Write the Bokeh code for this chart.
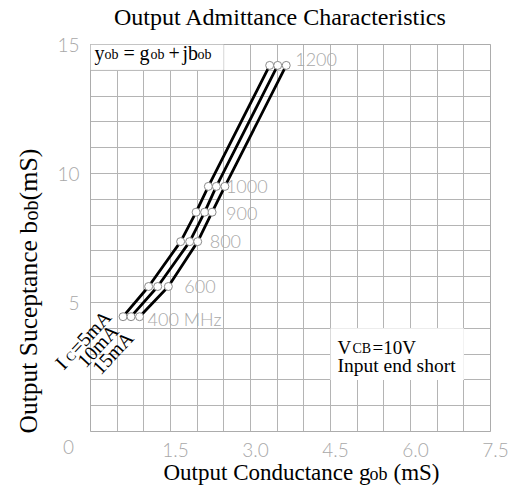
import math
from bokeh.plotting import figure
from bokeh.models import Range1d, FixedTicker, Label, BoxAnnotation, Grid
from bokeh.embed import file_html
from bokeh.resources import INLINE

# ---------------- data ----------------
freqs_mhz = [400, 600, 800, 900, 1000, 1200]
freq_labels = ["400 MHz", "600", "800", "900", "1000", "1200"]
b_ob = [4.45, 5.62, 7.36, 8.50, 9.50, 14.19]          # susceptance (mS)
g_ob_5mA = [0.61, 1.09, 1.69, 1.98, 2.21, 3.36]       # conductance (mS)
g_ob_10mA = [0.76, 1.26, 1.86, 2.14, 2.36, 3.51]
g_ob_15mA = [0.92, 1.46, 2.01, 2.28, 2.52, 3.67]
current_labels = ["=5mA", "10mA", "15mA"]

x_ticks = [1.5, 3.0, 4.5, 6.0, 7.5]
x_tick_labels = ["1.5", "3.0", "4.5", "6.0", "7.5"]
y_ticks = [5, 10, 15]
y_tick_labels = ["5", "10", "15"]
x_grid = [0, 0.5, 1.0, 1.5, 2.0, 2.5, 3.0, 3.5, 4.0, 4.5, 5.0, 5.5, 6.0, 6.5, 7.0, 7.5]
y_grid = [0, 1, 2, 3, 4, 5, 6, 7, 8, 9, 10, 11, 12, 13, 14, 15]
X_MAX, Y_MAX = 7.5, 15

# ---------------- styling / geometry ----------------
SERIF = "Liberation Serif"
THIN = "Lato Light"
GRAY_TXT = "#a8a8a8"
GRID_C = "#b4b4b4"
W, H = 519, 491
FX0, FX1, FY0, FY1 = 90, 490, 431, 44      # pixel edges of the gridded area
PXX = (FX1 - FX0) / X_MAX
PXY = (FY0 - FY1) / Y_MAX
MID = 0.335                                  # baseline -> em-middle, in em


def dx(px):
    return (px - FX0) / PXX


def dy(py):
    return (FY0 - py) / PXY


p = figure(width=W, height=H, x_range=Range1d(dx(0), dx(W)), y_range=Range1d(dy(H), dy(0)),
           x_axis_type=None, y_axis_type=None,
           output_backend="svg", toolbar_location=None, min_border=0)
p.background_fill_color = "white"
p.border_fill_color = "white"
p.outline_line_color = None

p.add_layout(Grid(dimension=0, ticker=FixedTicker(ticks=x_grid), bounds=(0, X_MAX),
                  cross_bounds=(0, Y_MAX), grid_line_color=GRID_C, grid_line_width=1))
p.add_layout(Grid(dimension=1, ticker=FixedTicker(ticks=y_grid), bounds=(0, Y_MAX),
                  cross_bounds=(0, X_MAX), grid_line_color=GRID_C, grid_line_width=1))
p.add_layout(BoxAnnotation(left=0, right=X_MAX, bottom=0, top=Y_MAX, fill_alpha=0,
                           line_color="#9c9c9c", line_width=1))

# white boxes behind the notes
p.add_layout(BoxAnnotation(left=0, right=2.5, bottom=14, top=15, fill_color="white", fill_alpha=1,
                           line_color="#9c9c9c", line_width=1))
p.add_layout(BoxAnnotation(left=4.5, right=7.0, bottom=2, top=4, fill_color="white", fill_alpha=1,
                           line_color=None))

# curves
for g in (g_ob_5mA, g_ob_10mA, g_ob_15mA):
    p.line(g, b_ob, line_color="black", line_width=2.8)
for g in (g_ob_5mA, g_ob_10mA, g_ob_15mA):
    p.scatter(g, b_ob, marker="circle", size=8, fill_color="white", line_color="#8a8a8a", line_width=1)

# tick labels
for t, s in zip(x_ticks, x_tick_labels):
    p.add_layout(Label(x=t, y=dy(449), x_offset=5, text=s, text_font=THIN, text_font_size="19px",
                       text_color=GRAY_TXT, text_align="center", text_baseline="middle"))
for t, s in zip(y_ticks, y_tick_labels):
    p.add_layout(Label(x=dx(79), y=t, text=s, text_font=THIN, text_font_size="19px",
                       text_color=GRAY_TXT, text_align="right", text_baseline="middle"))

# frequency labels next to the 15 mA points
lab_dx = [8, 16, 12, 14, 1, 9]
lab_dy = [-2, 0, 0, -1, 0, 6]
for i, t in enumerate(freq_labels):
    p.add_layout(Label(x=g_ob_15mA[i], y=b_ob[i], text=t, x_offset=lab_dx[i], y_offset=lab_dy[i],
                       text_font=THIN, text_font_size="18px", text_color=GRAY_TXT,
                       text_align="left", text_baseline="middle"))


def put(text, px, py, size, font=SERIF, color="black", align="left", angle=0):
    """Place text whose baseline starts at page pixel (px, py)."""
    a = math.radians(angle)
    k = MID * size
    mx, my = px - k * math.sin(a), py - k * math.cos(a)
    p.add_layout(Label(x=dx(mx), y=dy(my), text=text, text_font=font, text_font_size=f"{size}px",
                       text_color=color, text_align=align, text_baseline="middle",
                       angle=angle, angle_units="deg"))


# corner zero
p.add_layout(Label(x=dx(68), y=dy(446), text="0", text_font=THIN, text_font_size="19px",
                   text_color=GRAY_TXT, text_align="center", text_baseline="middle"))

# title
put("Output Admittance Characteristics", 280, 25, 24, align="center")

# x-axis title
put("Output Conductance g", 163, 480, 23)
put("ob", 369, 480, 18)
put("(mS)", 393, 480, 23)

# y-axis title (rotated)
put("Output Suceptance b", 37, 433, 25.5, angle=90)
put("ob", 37, 220, 20, angle=90)
put("(mS)", 37, 200, 26, angle=90)

# y = g + jb note
put("y", 94, 59, 20)
put("ob", 104, 59, 14)
put("=", 123, 59, 20)
put("g", 139, 59, 20)
put("ob", 150, 59, 14)
put("+", 168, 59, 20)
put("jb", 182, 59, 20)
put("ob", 197, 59, 14)

# bias note
put("V", 337, 353, 19)
put("CB", 352, 353, 14)
put("=10V", 372, 353, 19)
put("Input end short", 337, 372, 19.5)

# current labels, rotated
ANG = 47
cdx, cdy = math.cos(math.radians(ANG)), -math.sin(math.radians(ANG))
sx, sy = 63, 370
put("I", sx, sy, 20, angle=ANG)
put("C", sx + 11 * cdx, sy + 11 * cdy, 13, angle=ANG)
put(current_labels[0], sx + 20.5 * cdx, sy + 20.5 * cdy, 20, angle=ANG)
put(current_labels[1], 85, 368, 20, angle=ANG)
put(current_labels[2], 100, 375, 20, angle=ANG)

open("out.html", "w").write(file_html(p, INLINE))
